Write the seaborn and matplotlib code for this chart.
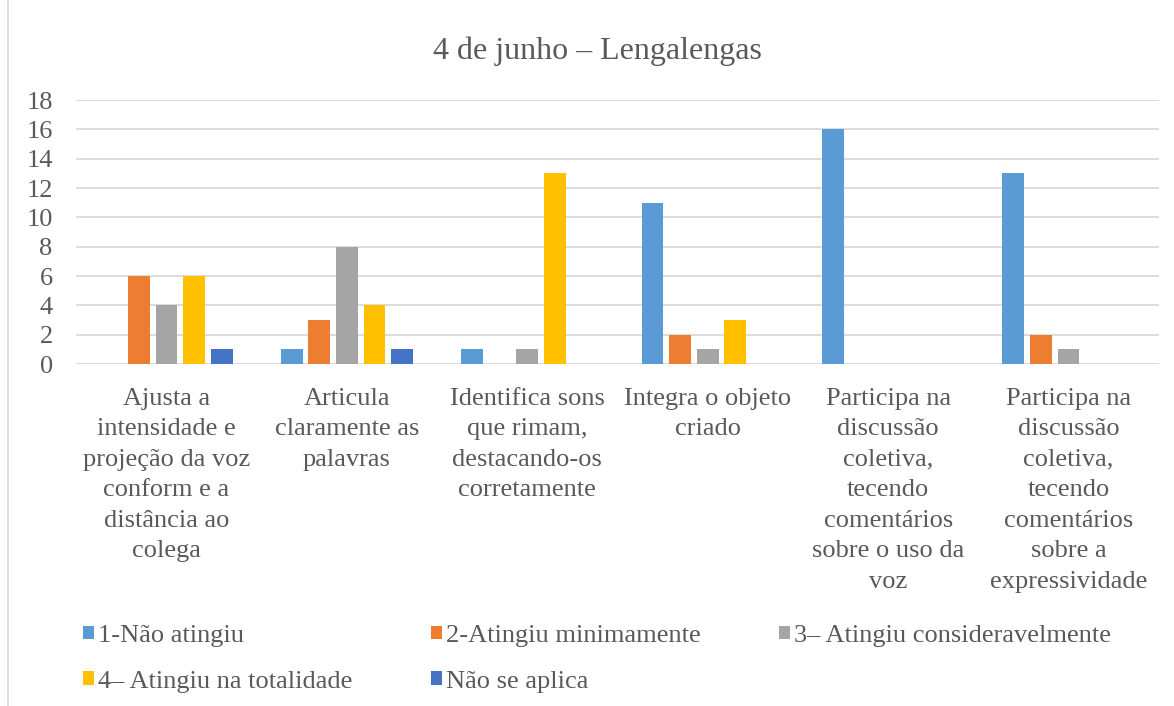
import pandas as pd
import seaborn as sns
import matplotlib.pyplot as plt
from matplotlib.patches import Rectangle

categories = [
    "Ajusta a\nintensidade e\nprojeção da voz\nconform e a\ndistância ao\ncolega",
    "Articula\nclaramente as\npalavras",
    "Identifica sons\nque rimam,\ndestacando-os\ncorretamente",
    "Integra o objeto\ncriado",
    "Participa na\ndiscussão\ncoletiva,\ntecendo\ncomentários\nsobre o uso da\nvoz",
    "Participa na\ndiscussão\ncoletiva,\ntecendo\ncomentários\nsobre a\nexpressividade",
]
levels = ["1-Não atingiu", "2-Atingiu minimamente", "3– Atingiu consideravelmente",
          "4– Atingiu na totalidade", "Não se aplica"]
nao_atingiu = [0, 1, 1, 11, 16, 13]
minimamente = [6, 3, 0, 2, 0, 2]
consideravelmente = [4, 8, 1, 1, 0, 1]
totalidade = [6, 4, 13, 3, 0, 0]
nao_se_aplica = [1, 1, 0, 0, 0, 0]
colors = ["#5B9BD5", "#ED7D31", "#A5A5A5", "#FFC000", "#4472C4"]

series = [nao_atingiu, minimamente, consideravelmente, totalidade, nao_se_aplica]
rows = []
for lvl, vals in zip(levels, series):
    for cat, v in zip(categories, vals):
        rows.append({"cat": cat, "level": lvl, "val": v})
df = pd.DataFrame(rows)

sns.set_style("white")
plt.rcParams["font.family"] = ["Liberation Serif", "DejaVu Serif"]
text_color = "#595959"

fig = plt.figure(figsize=(11.74, 7.06), dpi=100)
ax = fig.add_axes([0.065, 0.4844, 0.922, 0.3739])

sns.barplot(data=df, x="cat", y="val", hue="level", order=categories,
            hue_order=levels, palette=colors, saturation=1, width=0.765,
            gap=0.21, linewidth=0, ax=ax, legend=True)

ax.set_ylim(0, 18)
ax.set_yticks(range(0, 19, 2))
ax.set_xlim(-0.5, len(categories) - 0.5)
ax.yaxis.grid(True, color="#D9D9D9", linewidth=1.3)
ax.set_axisbelow(True)
for s in ax.spines.values():
    s.set_visible(False)
ax.set_xlabel("")
ax.set_ylabel("")
ax.tick_params(axis="y", length=0, pad=17, labelsize=19, labelcolor=text_color)
ax.tick_params(axis="x", length=0, pad=17, labelsize=19, labelcolor=text_color)
for lbl in ax.get_xticklabels():
    lbl.set_linespacing(1.5)
    lbl.set_verticalalignment("top")

fig.text(0.509, 0.928, "4 de junho – Lengalengas", ha="center", va="center",
         fontsize=23, color=text_color)

# legend fills column-first, reorder so rows read like the original
handles, labels = ax.get_legend_handles_labels()
ax.get_legend().remove()
order = [0, 3, 1, 4, 2]
fig.legend([handles[i] for i in order], [labels[i] for i in order], ncol=3,
           loc="upper left", bbox_to_anchor=(0.062, 0.13), frameon=False,
           fontsize=19, labelcolor=text_color, handlelength=0.42,
           handleheight=0.42, handletextpad=0.15, columnspacing=2.97,
           labelspacing=0.9, borderaxespad=0)

fig.patches.append(Rectangle((0.007, -0.05), 1.1, 1.2, transform=fig.transFigure,
                             fill=False, edgecolor="#D9D9D9", linewidth=1.2))

fig.savefig("out.png", dpi=100)
